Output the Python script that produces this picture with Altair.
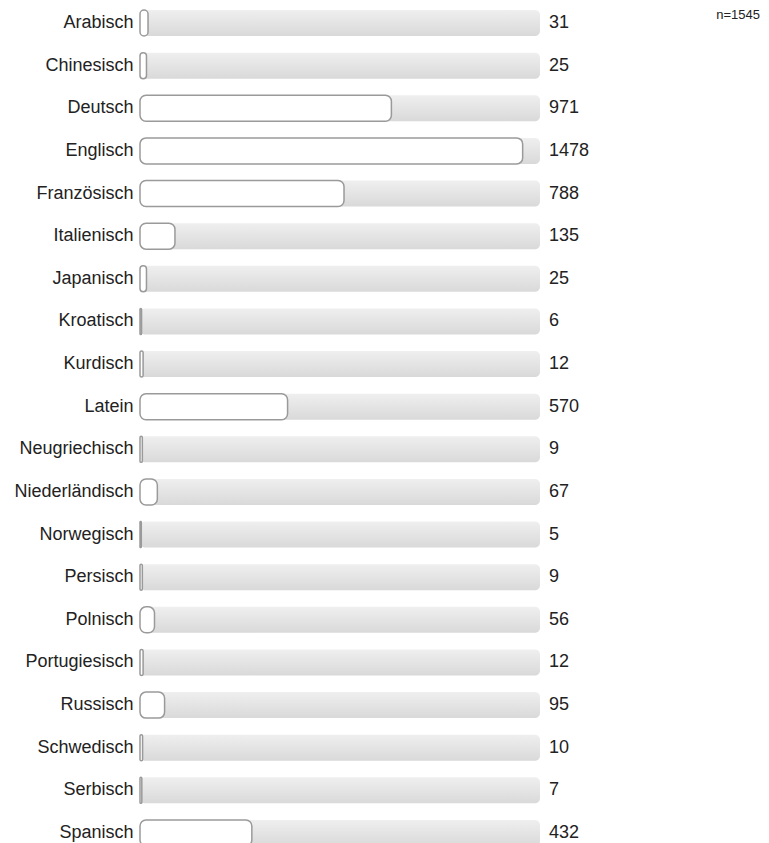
import altair as alt
import pandas as pd

languages = ["Arabisch", "Chinesisch", "Deutsch", "Englisch", "Französisch",
             "Italienisch", "Japanisch", "Kroatisch", "Kurdisch", "Latein",
             "Neugriechisch", "Niederländisch", "Norwegisch", "Persisch",
             "Polnisch", "Portugiesisch", "Russisch", "Schwedisch", "Serbisch",
             "Spanisch"]
counts = [31, 25, 971, 1478, 788, 135, 25, 6, 12, 570, 9, 67, 5, 9, 56, 12,
          95, 10, 7, 432]
n_total = 1545

df = pd.DataFrame({"lang": languages, "count": counts,
                   "total": [n_total] * len(languages)})

x_scale = alt.Scale(domain=[0, n_total], range=[0, 400])
y_scale = alt.Scale(domain=languages, range=[-6, 830],
                    paddingInner=0.39, paddingOuter=0)

y_enc = alt.Y("lang:N", scale=y_scale, sort=languages,
              axis=alt.Axis(title=None, domain=False, ticks=False,
                            labelPadding=7, labelFontSize=18,
                            labelColor="#222", labelFont="Liberation Sans",
                            labelLimit=300))

grad = alt.LinearGradient(gradient="linear",
                          stops=[alt.GradientStop(color="#efefef", offset=0),
                                 alt.GradientStop(color="#d9d9d9", offset=1)],
                          x1=0, x2=0, y1=0, y2=1)

base = alt.Chart(df)

bg = base.mark_bar(cornerRadius=5, color=grad).encode(
    y=y_enc,
    x=alt.X("total:Q", scale=x_scale, axis=None, stack=None),
)

fg = base.mark_bar(cornerRadius=6, fill="white", stroke="#9a9a9a",
                   strokeWidth=1.5).encode(
    y=y_enc,
    x=alt.X("count:Q", scale=x_scale, axis=None, stack=None),
)

labels = base.mark_text(align="left", baseline="middle", dx=9, fontSize=18,
                        font="Liberation Sans", color="#222").encode(
    y=y_enc,
    x=alt.X("total:Q", scale=x_scale, axis=None),
    text="count:Q",
)

ntext = alt.Chart(pd.DataFrame({"t": [f"n={n_total}"]})).mark_text(
    align="right", baseline="middle", fontSize=13, font="Liberation Sans",
    color="#222").encode(
    x=alt.value(620), y=alt.value(-1), text="t:N")

chart = alt.layer(bg, fg, labels, ntext).properties(
    width=621, height=827,
    autosize=alt.AutoSizeParams(type="none"),
    padding={"left": 132, "top": 8, "right": 0, "bottom": 0},
).configure_view(stroke=None)

chart.save("out.html", embed_options={"renderer": "svg", "actions": False})
